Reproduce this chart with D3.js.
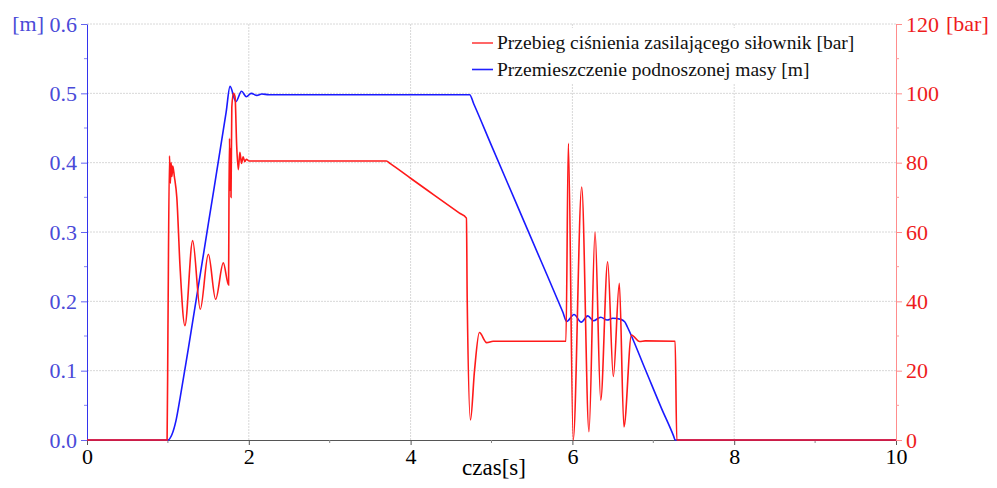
<!DOCTYPE html>
<html>
<head>
<meta charset="utf-8">
<script src="https://cdn.jsdelivr.net/npm/d3@7"></script>
<style>
  body { margin: 0; background: #fff; }
</style>
</head>
<body>
<svg id="chart" width="997" height="488"></svg>
<script>
// przemieszczenie [m] w czasie [s]
var massPoints = [
  [0, 0], [1.0, 0], [1.05, 0.008], [1.1, 0.028], [1.15, 0.06], [1.25, 0.13],
  [1.5, 0.312], [1.72, 0.473], [1.768, 0.51], [1.84, 0.488], [1.91, 0.503],
  [1.97, 0.495], [2.03, 0.5], [2.1, 0.497], [2.16, 0.499], [2.25, 0.498],
  [4.73, 0.498], [4.78, 0.485], [5.0, 0.4246], [5.3, 0.343], [5.6, 0.2614],
  [5.88, 0.185], [5.93, 0.171], [6.02, 0.181], [6.11, 0.17], [6.19, 0.179],
  [6.26, 0.172], [6.35, 0.177], [6.43, 0.173], [6.5, 0.1755], [6.6, 0.174],
  [6.65, 0.17], [6.68, 0.163], [6.9, 0.102], [7.1, 0.046], [7.25, 0.006],
  [7.27, 0], [10, 0]
];

// cisnienie [bar] w czasie [s]
var pressurePoints = [
  [0, 0], [0.99, 0], [1.0, 30], [1.02, 82], [1.03, 74], [1.04, 80], [1.05, 76],
  [1.06, 79], [1.08, 76], [1.11, 70], [1.15, 50], [1.21, 33], [1.306, 57.5],
  [1.4, 37.7], [1.5, 53.6], [1.59, 40.6], [1.685, 51.1], [1.75, 44.7],
  [1.755, 70], [1.762, 87], [1.768, 72], [1.774, 84], [1.78, 70], [1.79, 96],
  [1.81, 100], [1.83, 99], [1.85, 85], [1.87, 78], [1.89, 83], [1.91, 79.8],
  [1.93, 81.7], [1.95, 80.3], [1.97, 81], [2.0, 80.5], [3.7, 80.5], [3.75, 79.7],
  [4.0, 75.5], [4.3, 70.5], [4.6, 65.5], [4.69, 64], [4.7, 40], [4.74, 5.8],
  [4.79, 20], [4.85, 31], [4.94, 28.1], [5.02, 28.5], [5.92, 28.5], [5.95, 85.6],
  [6.01, 0], [6.115, 73], [6.205, 2.4], [6.28, 60], [6.35, 11.5], [6.436, 51.4],
  [6.506, 18.3], [6.58, 45.2], [6.637, 3.8], [6.73, 30.3], [6.83, 28.4],
  [6.9, 28.6], [7.27, 28.5], [7.29, 0], [10, 0]
];

var xTicks = [0, 2, 4, 6, 8, 10];
var mTicks = [0, 0.1, 0.2, 0.3, 0.4, 0.5, 0.6];
var barTicks = [0, 20, 40, 60, 80, 100, 120];
var legendLabels = ["Przebieg ciśnienia zasilającego siłownik [bar]", "Przemieszczenie podnoszonej masy [m]"];

var svg = d3.select("#chart");
var x = d3.scaleLinear().domain([0, 10]).range([87, 896]);
var yL = d3.scaleLinear().domain([0, 0.6]).range([440, 24]);
var yR = d3.scaleLinear().domain([0, 120]).range([440, 24]);

// siatka
var grid = svg.append("g");
grid.selectAll(".gy").data(mTicks.slice(1)).enter().append("line")
  .attr("x1", x(0)).attr("x2", x(10))
  .attr("y1", d => yL(d)).attr("y2", d => yL(d))
  .attr("stroke", "#d8d8d8").attr("stroke-dasharray", "2,1");
grid.selectAll(".gx").data(xTicks.slice(1, -1)).enter().append("line")
  .attr("x1", d => x(d)).attr("x2", d => x(d))
  .attr("y1", yL(0)).attr("y2", yL(0.6))
  .attr("stroke", "#d8d8d8").attr("stroke-dasharray", "2,1");

// os X
var xAxis = svg.append("g").attr("transform", "translate(0," + yL(0) + ")")
  .call(d3.axisBottom(x).tickValues(xTicks).tickSize(5).tickPadding(3).tickFormat(d3.format("d")));
xAxis.attr("font-family", null);
xAxis.select(".domain").attr("stroke", "#555");
xAxis.selectAll(".tick line").attr("stroke", "#555");
xAxis.selectAll(".tick text").attr("font-size", 22).attr("fill", "#000");
svg.append("g").selectAll("line").data([1, 3, 5, 7, 9]).enter().append("line")
  .attr("x1", d => x(d)).attr("x2", d => x(d))
  .attr("y1", yL(0)).attr("y2", yL(0) + 3).attr("stroke", "#888");

// lewa os
var leftAxis = svg.append("g").attr("transform", "translate(" + x(0) + ",0)")
  .call(d3.axisLeft(yL).tickValues(mTicks).tickSize(6).tickSizeOuter(0).tickPadding(4).tickFormat(d3.format(".1f")));
leftAxis.attr("font-family", null);
leftAxis.select(".domain").attr("stroke", "#3333ee");
leftAxis.selectAll(".tick line").attr("stroke", "#6666ee");
leftAxis.selectAll(".tick text").attr("font-size", 22).attr("fill", "#4a4ad8");
svg.append("g").selectAll("line").data([0.05, 0.15, 0.25, 0.35, 0.45, 0.55]).enter().append("line")
  .attr("x1", x(0) - 3).attr("x2", x(0))
  .attr("y1", d => yL(d)).attr("y2", d => yL(d)).attr("stroke", "#8888ee");
svg.append("text").attr("x", 44).attr("y", yL(0.6)).attr("dy", "0.32em")
  .attr("text-anchor", "end").attr("font-size", 22).attr("fill", "#4a4ad8").text("[m]");

// prawa os
var rightAxis = svg.append("g").attr("transform", "translate(" + x(10) + ",0)")
  .call(d3.axisRight(yR).tickValues(barTicks).tickSize(6).tickSizeOuter(0).tickPadding(4).tickFormat(d3.format("d")));
rightAxis.attr("font-family", null);
rightAxis.select(".domain").attr("stroke", "#ff8c8c");
rightAxis.selectAll(".tick line").attr("stroke", "#ff8c8c");
rightAxis.selectAll(".tick text").attr("font-size", 22).attr("fill", "#ee1c1c");
svg.append("g").selectAll("line").data([10, 30, 50, 70, 90, 110]).enter().append("line")
  .attr("x1", x(10)).attr("x2", x(10) + 3)
  .attr("y1", d => yR(d)).attr("y2", d => yR(d)).attr("stroke", "#ff9a9a");
svg.append("text").attr("x", 946).attr("y", yR(120)).attr("dy", "0.32em")
  .attr("font-size", 22).attr("fill", "#ee1c1c").text("[bar]");

svg.append("text").attr("x", 494).attr("y", 475).attr("text-anchor", "middle")
  .attr("font-size", 23).attr("fill", "#000").text("czas[s]");

// przebiegi
var lineM = d3.line().x(d => x(d[0])).y(d => yL(d[1])).curve(d3.curveMonotoneX);
var lineP = d3.line().x(d => x(d[0])).y(d => yR(d[1])).curve(d3.curveMonotoneX);
svg.append("path").datum(massPoints).attr("d", lineM)
  .attr("fill", "none").attr("stroke", "#1a1aff").attr("stroke-width", 1.6);
svg.append("path").datum(pressurePoints).attr("d", lineP)
  .attr("fill", "none").attr("stroke", "#ff1a1a").attr("stroke-width", 1.6);

// legenda
var legend = svg.append("g");
legend.append("rect").attr("x", 466).attr("y", 28).attr("width", 400).attr("height", 56).attr("fill", "#fff");
var colors = ["#ff4040", "#2020ff"];
legendLabels.forEach(function(label, i) {
  var ly = 43 + i * 26.5;
  legend.append("line").attr("x1", 472).attr("x2", 493).attr("y1", ly).attr("y2", ly)
    .attr("stroke", colors[i]).attr("stroke-width", 1.6);
  legend.append("text").attr("x", 497).attr("y", ly).attr("dy", "0.32em")
    .attr("font-size", 19.5).attr("fill", "#111").text(label);
});

// czcionka szeryfowa na kazdym tekscie
svg.selectAll("text").style("font-family", "Liberation Serif, DejaVu Serif, serif");
</script>
</body>
</html>
